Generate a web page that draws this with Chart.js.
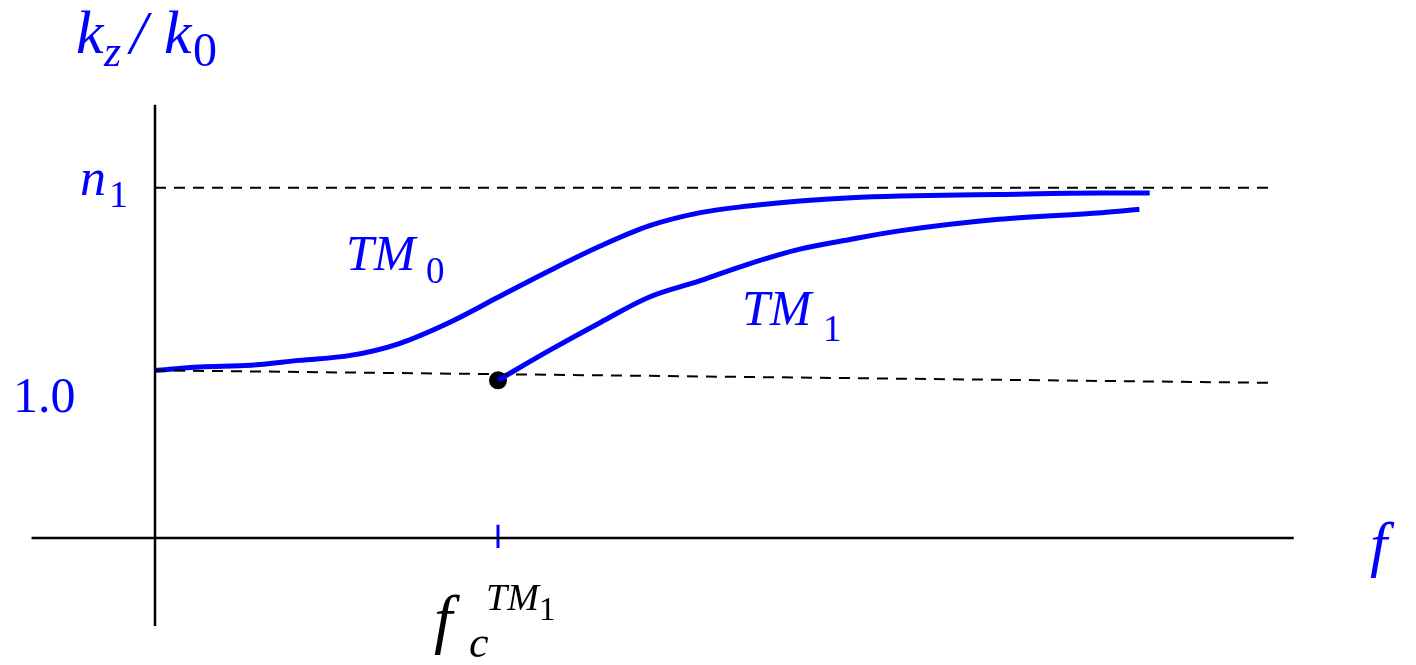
<!DOCTYPE html>
<html>
<head>
<meta charset="utf-8">
<script src="https://cdn.jsdelivr.net/npm/chart.js@4/dist/chart.umd.min.js"></script>
<style>
  html, body { margin: 0; padding: 0; background: #fff; overflow: hidden; }
  #wrap { width: 1416px; height: 665px; position: relative; }
</style>
</head>
<body>
<div id="wrap"><canvas id="modes"></canvas></div>
<script>
// frequency in units of the TM1 cutoff, kz/k0 in units of k0
var freq = [0, 0.13, 0.28, 0.42, 0.57, 0.71, 0.86, 1.0, 1.15, 1.3, 1.44, 1.59, 1.73, 1.88, 2.03, 2.17, 2.46, 2.76, 2.9]
var tm0 = [1.01, 1.03, 1.04, 1.07, 1.1, 1.17, 1.3, 1.45, 1.61, 1.76, 1.88, 1.96, 2.0, 2.03, 2.05, 2.06, 2.07, 2.078, 2.078]
var tm1Freq = [1.0, 1.15, 1.3, 1.44, 1.59, 1.73, 1.88, 2.03, 2.17, 2.46, 2.76, 2.87]
var tm1 = [0.95, 1.13, 1.3, 1.45, 1.55, 1.65, 1.74, 1.8, 1.85, 1.92, 1.96, 1.98]
var n1 = 2.11
var lightLine = [1.01, 0.935]   // kz/k0 = 1 guide, start and end
var guideEnd = 3.245
var cutoff = 1.0

function pts (xs, ys) {
  var out = []
  for (var i = 0; i < xs.length; i++) out.push({x: xs[i], y: ys[i]})
  return out
}

function text (ctx, str, x, y, size, italic, color) {
  ctx.font = (italic ? 'italic ' : '') + size + 'px "Liberation Serif"'
  ctx.fillStyle = color
  ctx.textBaseline = 'alphabetic'
  ctx.fillText(str, x, y)
}

var labels = {
  id: 'labels',
  afterDatasetsDraw: function (chart) {
    var ctx = chart.ctx
    var blue = '#0000ff'
    ctx.save()
    // axis title
    text(ctx, 'k', 76, 53, 62, true, blue)
    text(ctx, 'z', 104, 66, 44, true, blue)
    text(ctx, '/', 130, 53, 62, true, blue)
    text(ctx, 'k', 164, 53, 62, true, blue)
    text(ctx, '0', 193, 66, 48, false, blue)
    // tick labels
    text(ctx, 'n', 80, 195, 52, true, blue)
    text(ctx, '1', 109, 207, 38, false, blue)
    text(ctx, '1.0', 13, 412, 50, false, blue)
    // mode names
    text(ctx, 'TM', 346, 270, 50, true, blue)
    text(ctx, '0', 426, 283, 37, false, blue)
    text(ctx, 'TM', 742, 325, 50, true, blue)
    text(ctx, '1', 823, 341, 37, false, blue)
    // f axis
    text(ctx, 'f', 1370, 565, 62, true, blue)
    // cutoff label
    text(ctx, 'f', 434, 641, 66, true, '#000')
    text(ctx, 'c', 469, 657, 44, true, '#000')
    text(ctx, 'TM', 486, 610, 38, true, '#000')
    text(ctx, '1', 539, 620, 33, false, '#000')
    ctx.restore()
  }
}

var ctx = document.getElementById('modes').getContext('2d')
new Chart(ctx, {
  type: 'scatter',
  data: {
    datasets: [
      {data: pts([0, 0], [2.61, -0.53]), showLine: true, borderColor: '#000', borderWidth: 2.5, pointRadius: 0},
      {data: pts([-0.36, 3.32], [0, 0]), showLine: true, borderColor: '#000', borderWidth: 2.5, pointRadius: 0},
      {data: pts([0, guideEnd], [n1, n1]), showLine: true, borderColor: '#000', borderWidth: 2, borderDash: [11, 8], pointRadius: 0},
      {data: pts([0, guideEnd], lightLine), showLine: true, borderColor: '#000', borderWidth: 2, borderDash: [11, 8], pointRadius: 0},
      {data: pts(freq, tm0), showLine: true, borderColor: '#0000ff', borderWidth: 5, pointRadius: 0, cubicInterpolationMode: 'monotone'},
      {data: pts(tm1Freq, tm1), showLine: true, borderColor: '#0000ff', borderWidth: 5, pointRadius: 0, cubicInterpolationMode: 'monotone'},
      {data: pts([cutoff, cutoff], [0.08, -0.06]), showLine: true, borderColor: '#0000ff', borderWidth: 3, pointRadius: 0},
      {data: pts([cutoff], [tm1[0]]), showLine: false, pointRadius: 9, pointBackgroundColor: '#000', pointBorderWidth: 0}
    ]
  },
  options: {
    responsive: true,
    maintainAspectRatio: false,
    animation: false,
    devicePixelRatio: 1,
    layout: {padding: 0, autoPadding: false},
    plugins: {legend: {display: false}, tooltip: {enabled: false}},
    scales: {
      x: {type: 'linear', display: false, min: -155 / 343, max: 1261 / 343},
      y: {type: 'linear', display: false, min: -127 / 166, max: 538 / 166}
    }
  },
  plugins: [labels]
})
</script>
</body>
</html>
